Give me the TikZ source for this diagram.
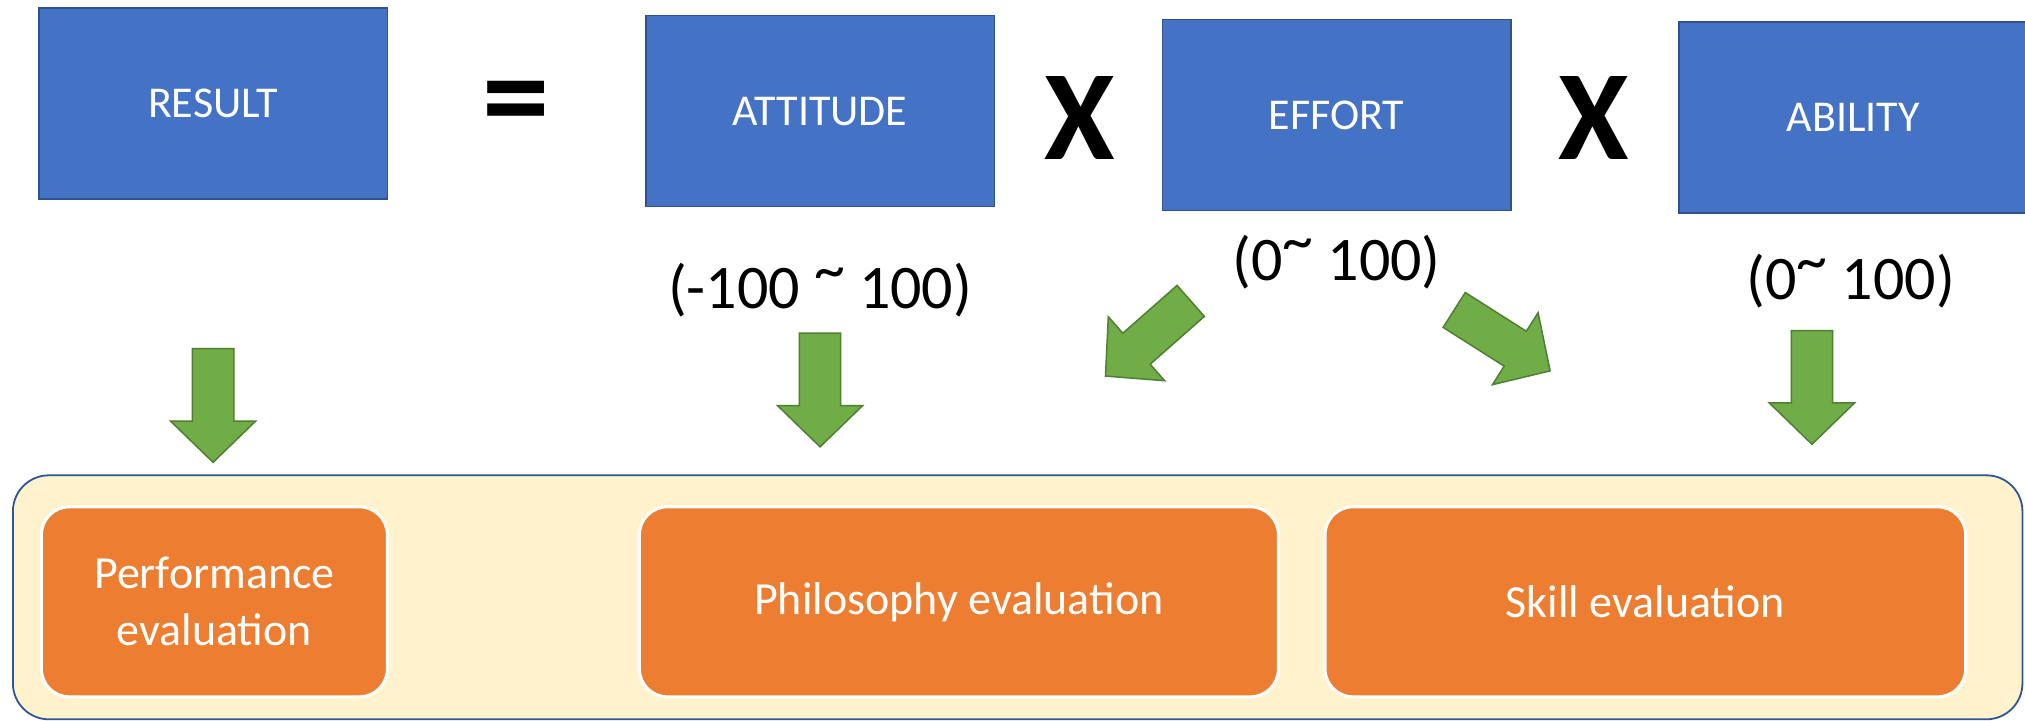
\documentclass[tikz,border=0pt]{standalone}
\usepackage{fontspec}
\setmainfont{Carlito}
\definecolor{boxblue}{HTML}{4472C4}
\definecolor{boxblueline}{HTML}{2F528F}
\definecolor{orangebox}{HTML}{ED7D31}
\definecolor{panelfill}{HTML}{FFF2CC}
\definecolor{panelline}{HTML}{2F5597}
\definecolor{arrowgreen}{HTML}{70AD47}
\definecolor{arrowline}{HTML}{507E32}
\newcommand{\hitilde}{\raisebox{0.3em}{\textasciitilde}}
\tikzset{
  bluebox/.style={draw=boxblueline, line width=1.6pt, fill=boxblue, text=white,
    minimum width=348.7pt, minimum height=191pt, inner sep=0pt,
    font=\fontsize{44}{54}\selectfont},
  evalbox/.style={draw=white, line width=3pt, fill=orangebox, text=white,
    rounded corners=28pt, inner sep=0pt, minimum height=190pt, align=center,
    font=\fontsize{46}{57}\selectfont},
  rangetxt/.style={text=black, inner sep=0pt, font=\fontsize{62}{70}\selectfont},
  optxt/.style={text=black, inner sep=0pt, font=\fontsize{128}{130}\selectfont\bfseries},
  eqtxt/.style={text=black, inner sep=0pt, font=\fontsize{135}{140}\selectfont\bfseries},
  greenarrow/.style={fill=arrowgreen, draw=arrowline, line width=1.5pt, line join=miter},
  blockarrow/.pic={\path[greenarrow] (0,-16) -- (56,-16) -- (56,-33) -- (88,0) -- (56,33) -- (56,16) -- (0,16) -- cycle;}
}
\begin{document}
\begin{tikzpicture}[x=1.2915pt,y=-1.2915pt]
\useasboundingbox (0,0) rectangle (1568,558);
\begin{scope}
\clip (0,0) rectangle (1568,558);
\fill[white] (0,0) rectangle (1568,558);
% top row
\node[bluebox] (result) at (165,80) {RESULT};
\node[eqtxt] (eq) at (400,86) {=};
\node[bluebox] (attitude) at (635,86) {ATTITUDE};
\node[optxt] (x1) at (836,91) {X};
\node[bluebox] (effort) at (1035,89) {EFFORT};
\node[optxt] (x2) at (1234,91) {X};
\node[bluebox] (ability) at (1435,91) {ABILITY};
% ranges
\node[rangetxt] (r1) at (635,225) {(-100 \hitilde{} 100)};
\node[rangetxt] (r2) at (1035,203) {(0\hitilde{} 100)};
\node[rangetxt] (r3) at (1433,218) {(0\hitilde{} 100)};
% bottom panel
\node[draw=panelline, line width=1.8pt, fill=panelfill, rounded corners=36pt,
      minimum width=2009.6pt, minimum height=244pt, inner sep=0pt] (panel) at (788,462.5) {};
\node[evalbox, minimum width=346pt] (perf) at (166,466) {Performance\\evaluation};
\node[evalbox, minimum width=639pt] (phil) at (742.5,466) {Philosophy evaluation};
\node[evalbox, minimum width=640.6pt] (skill) at (1274,466) {Skill evaluation};
% arrows
\pic[rotate=-90] (a1) at (165,270) {blockarrow};
\pic[rotate=-90] (a2) at (635,258) {blockarrow};
\pic[rotate=221.4] (a3) at (922,233) {blockarrow};
\pic[rotate=-32.4] (a4) at (1126,240) {blockarrow};
\pic[rotate=-90] (a5) at (1403,256) {blockarrow};
\end{scope}
\end{tikzpicture}
\end{document}
